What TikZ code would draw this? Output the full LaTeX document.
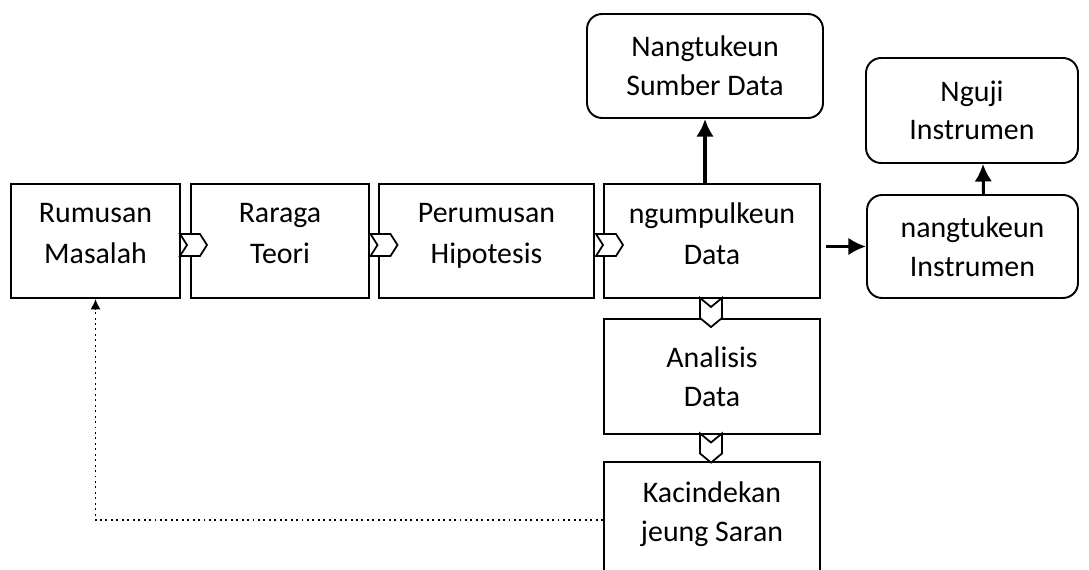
\documentclass[tikz,border=0pt]{standalone}
\usepackage{fontspec}
\setmainfont{Carlito}
\usetikzlibrary{positioning, arrows, arrows.meta, shapes}

\begin{document}
\begin{tikzpicture}[x=0.02cm, y=-0.02cm,
	stage/.style={draw, rectangle, line width=1.1pt, text centered, align=center,
		font=\fontsize{17}{22}\selectfont},
	rowstage/.style={stage, minimum height=2.28cm, font=\fontsize{17}{23.5}\selectfont},
	task/.style={stage, rounded corners=0.3cm},
	hchev/.style={draw, fill=white, line width=1.0pt, shape=signal, signal to=east,
		signal from=west, signal pointer angle=115, minimum width=0.54cm,
		minimum height=0.44cm, inner sep=0pt},
	vchev/.style={draw, fill=white, line width=1.0pt, shape=signal, signal to=south,
		signal from=north, signal pointer angle=101, minimum width=0.44cm,
		minimum height=0.22cm, inner sep=0pt},
	bigtip/.style={-{Latex[length=10pt,width=10pt]}},
	smalltip/.style={-{Latex[length=6pt,width=6pt]}}]
			
			\useasboundingbox (0,0) rectangle (1089,570);
			\clip (0,0) rectangle (1089,570);
			
			%Rumusan masalah
			\node (rumusan) at (95.5,241) [rowstage, minimum width=3.38cm]
			{Rumusan\\ Masalah\\[-15pt] \mbox{}};
			
			%Raraga teori
			\node (raraga) at (280,241) [rowstage, minimum width=3.56cm]
			{Raraga\\ Teori\\[-15pt] \mbox{}};
			
			%Perumusan hipotesis
			\node (hipotesis) at (486.5,241) [rowstage, minimum width=4.3cm]
			{Perumusan\\ Hipotesis\\[-15pt] \mbox{}};
			
			%Ngumpulkeun data
			\node (ngumpulkeun) at (712,241) [rowstage, minimum width=4.32cm]
			{ngumpulkeun\\ Data\\[-15pt] \mbox{}};
			
			%Analisis data
			\node (analisis) at (712,376.5) [stage, minimum width=4.32cm, minimum height=2.3cm]
			{Analisis\\ Data};
			
			%Kacindekan
			\node (kacindekan) at (712,531) [stage, minimum width=4.32cm, minimum height=2.76cm]
			{Kacindekan\\ jeung Saran\\ \mbox{}};
			
			%Sumber data
			\node (sumber) at (705,66) [task, minimum width=4.72cm, minimum height=2.08cm]
			{Nangtukeun\\ Sumber Data};
			
			%Instrumen
			\node (instrumen) at (972.5,246.5) [task, minimum width=4.22cm, minimum height=2.06cm]
			{nangtukeun\\ Instrumen};
			
			%Nguji instrumen
			\node (nguji) at (972,110.5) [task, minimum width=4.24cm, minimum height=2.1cm]
			{Nguji\\ Instrumen};
			
			%Chevrons
			\node (chevA) at (193.5,245) [hchev] {};
			\node (chevB) at (384,245) [hchev] {};
			\node (chevC) at (609.5,245) [hchev] {};
			\node (chevD) at (711,312.5) [vchev] {};
			\node (chevE) at (711,448) [vchev] {};
			
			%Links
			\draw[bigtip, line width=2.2pt] (sumber.south |- ngumpulkeun.north) -- (sumber.south);
			\draw[bigtip, line width=2.2pt, shorten <=3pt] (ngumpulkeun.east |- instrumen.west) -- 
			(instrumen.west);
			\draw[bigtip, line width=1.7pt] ([xshift=0.22cm]instrumen.north) -- 
			([xshift=0.22cm]nguji.south);
			\draw[smalltip, line width=1.1pt, dotted] ([yshift=0.22cm]kacindekan.west) -| 
			(rumusan.south);
			
\end{tikzpicture}
\end{document}
